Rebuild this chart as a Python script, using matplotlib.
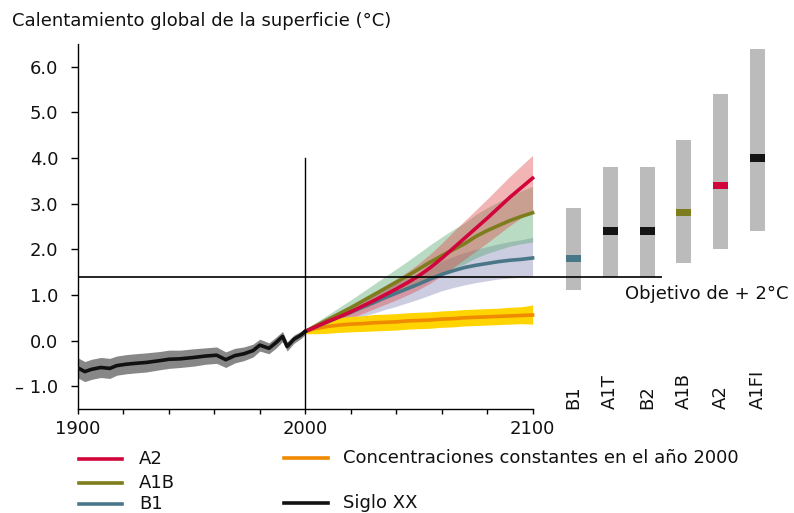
import numpy as np
import matplotlib
matplotlib.use("Agg")
import matplotlib.pyplot as plt
from matplotlib.lines import Line2D

plt.rcParams['font.family'] = ['DejaVu Sans']
FS = 13

# ---------------- data ----------------
hist_years = [1900, 1903, 1906, 1910, 1914, 1917, 1921, 1925, 1930, 1936, 1940, 1945, 1951,
              1956, 1961, 1965, 1969, 1973, 1977, 1980, 1984, 1987, 1990, 1992, 1995, 1998, 2000]
hist_mean = [-0.60, -0.68, -0.63, -0.59, -0.61, -0.55, -0.52, -0.50, -0.48, -0.44, -0.41, -0.40, -0.37,
             -0.34, -0.32, -0.42, -0.33, -0.29, -0.22, -0.10, -0.17, -0.05, 0.09, -0.13, 0.03, 0.12, 0.20]
hist_hi = [-0.38, -0.46, -0.41, -0.37, -0.39, -0.34, -0.31, -0.29, -0.27, -0.24, -0.21, -0.21, -0.18,
           -0.16, -0.14, -0.25, -0.17, -0.14, -0.08, 0.03, -0.05, 0.07, 0.20, -0.03, 0.12, 0.20, 0.27]
hist_lo = [-0.82, -0.90, -0.85, -0.81, -0.83, -0.76, -0.73, -0.71, -0.69, -0.64, -0.61, -0.59, -0.56,
           -0.52, -0.50, -0.59, -0.49, -0.44, -0.36, -0.23, -0.29, -0.17, -0.02, -0.23, -0.06, 0.04, 0.13]

proj_years = [2000, 2005, 2010, 2015, 2020, 2025, 2030, 2035, 2040, 2045, 2050,
              2055, 2060, 2065, 2070, 2075, 2080, 2085, 2090, 2095, 2100]

a2_mean = [0.20, 0.31, 0.42, 0.52, 0.63, 0.75, 0.87, 1.00, 1.13, 1.27, 1.42, 1.60, 1.80, 2.02, 2.24, 2.46, 2.68, 2.91, 3.14, 3.35, 3.56]
a2_hi = [0.25, 0.39, 0.52, 0.64, 0.77, 0.91, 1.05, 1.20, 1.35, 1.51, 1.69, 1.90, 2.13, 2.38, 2.62, 2.86, 3.10, 3.35, 3.60, 3.83, 4.06]
a2_lo = [0.15, 0.23, 0.32, 0.40, 0.49, 0.59, 0.69, 0.79, 0.89, 1.00, 1.12, 1.26, 1.42, 1.60, 1.78, 1.96, 2.14, 2.33, 2.52, 2.69, 2.84]

a1b_mean = [0.20, 0.33, 0.46, 0.59, 0.72, 0.86, 1.00, 1.14, 1.28, 1.42, 1.57, 1.72, 1.86, 1.99, 2.12, 2.28, 2.41, 2.52, 2.63, 2.72, 2.80]
a1b_hi = [0.25, 0.41, 0.57, 0.73, 0.89, 1.06, 1.23, 1.40, 1.57, 1.74, 1.92, 2.10, 2.27, 2.43, 2.58, 2.76, 2.91, 3.04, 3.17, 3.28, 3.38]
a1b_lo = [0.15, 0.25, 0.36, 0.47, 0.58, 0.69, 0.80, 0.91, 1.02, 1.13, 1.25, 1.37, 1.48, 1.58, 1.68, 1.81, 1.91, 1.99, 2.07, 2.12, 2.16]

b1_mean = [0.20, 0.31, 0.41, 0.52, 0.62, 0.73, 0.83, 0.94, 1.04, 1.14, 1.24, 1.35, 1.45, 1.53, 1.60, 1.65, 1.69, 1.73, 1.76, 1.78, 1.81]
b1_hi = [0.25, 0.38, 0.50, 0.63, 0.75, 0.88, 1.00, 1.13, 1.25, 1.37, 1.49, 1.62, 1.74, 1.84, 1.93, 2.00, 2.06, 2.12, 2.17, 2.21, 2.26]
b1_lo = [0.15, 0.23, 0.30, 0.38, 0.45, 0.53, 0.60, 0.68, 0.75, 0.83, 0.91, 1.00, 1.09, 1.16, 1.22, 1.27, 1.31, 1.35, 1.37, 1.39, 1.42]

const_mean = [0.20, 0.27, 0.31, 0.34, 0.36, 0.37, 0.39, 0.40, 0.41, 0.43, 0.44, 0.45, 0.47, 0.48, 0.50, 0.51, 0.52, 0.53, 0.54, 0.55, 0.56]
const_hi = [0.25, 0.39, 0.46, 0.50, 0.53, 0.54, 0.57, 0.58, 0.59, 0.61, 0.62, 0.63, 0.65, 0.66, 0.68, 0.69, 0.70, 0.71, 0.73, 0.74, 0.78]
const_lo = [0.15, 0.15, 0.16, 0.18, 0.19, 0.20, 0.21, 0.22, 0.23, 0.25, 0.26, 0.27, 0.29, 0.30, 0.32, 0.33, 0.34, 0.35, 0.36, 0.37, 0.36]

scenarios = ["B1", "A1T", "B2", "A1B", "A2", "A1FI"]
range_low = [1.1, 1.4, 1.4, 1.7, 2.0, 2.4]
range_high = [2.9, 3.8, 3.8, 4.4, 5.4, 6.4]
best_est = [1.8, 2.4, 2.4, 2.8, 3.4, 4.0]

target_level = 1.4
ytick_vals = [-1, 0, 1, 2, 3, 4, 5, 6]
ytick_labels = ["\u2013 1.0", "0.0", "1.0", "2.0", "3.0", "4.0", "5.0", "6.0"]
xtick_labels = {1900: "1900", 2000: "2000", 2100: "2100"}

# ---------------- styles ----------------
C_A2 = "#d2043c"
C_A1B = "#7d7d1e"
C_B1 = "#4a7788"
C_CONST = "#f08a00"
C_YEL = "#ffd400"
C_HIST = "#111111"
C_HISTBAND = "#878787"
TXT = "#111111"
marker_colors = [C_B1, "#141414", "#141414", C_A1B, C_A2, "#141414"]

fig = plt.figure(figsize=(7.94, 5.13), dpi=100)
W, H = 794, 513
ax = fig.add_axes([78 / W, 1 - 409 / H, (782.6 - 78) / W, (409 - 44) / H])
ax.set_xlim(1900, 2210)
ax.set_ylim(-1.5, 6.5)

# bands
ax.fill_between(hist_years, hist_lo, hist_hi, color=C_HISTBAND, lw=0, zorder=2)
ax.fill_between(proj_years, b1_lo, b1_hi, color="#8282b4", alpha=0.4, lw=0, zorder=2)
ax.fill_between(proj_years, a1b_lo, a1b_hi, color="#50a769", alpha=0.4, lw=0, zorder=2)
ax.fill_between(proj_years, a2_lo, a2_hi, color="#df4545", alpha=0.4, lw=0, zorder=2)
ax.fill_between(proj_years, const_lo, const_hi, color=C_YEL, lw=0, zorder=2.5)

# lines
lw = 2.6
ax.plot(proj_years, const_mean, color=C_CONST, lw=lw, zorder=3)
ax.plot(proj_years, b1_mean, color=C_B1, lw=lw, zorder=3)
ax.plot(proj_years, a1b_mean, color=C_A1B, lw=lw, zorder=3)
ax.plot(proj_years, a2_mean, color=C_A2, lw=lw, zorder=3)
ax.plot(hist_years, hist_mean, color=C_HIST, lw=lw, zorder=3)

# ranges per scenario (to the right of the time axis)
bar_x = 2118 + 16.2 * np.arange(len(scenarios))
bar_w = 6.6
ax.bar(bar_x, np.array(range_high) - np.array(range_low), bottom=range_low,
       width=bar_w, color="#bbbbbb", lw=0, zorder=2, clip_on=False)
mh = 0.16
ax.bar(bar_x, mh, bottom=np.array(best_est) - mh / 2, width=bar_w,
       color=marker_colors, lw=0, zorder=3, clip_on=False)
for x, s in zip(bar_x, scenarios):
    ax.text(x, -1.5, s, rotation=90, ha="center", va="bottom", fontsize=FS,
            color=TXT, clip_on=False)

# reference lines
ax.plot([1900, 2157], [target_level, target_level], color="black", lw=1.2, zorder=5,
        solid_capstyle="butt")
ax.plot([2000, 2000], [-1.5, 4.0], color="black", lw=1.0, zorder=5)
ax.text(2212.5, 1.02, "Objetivo de + 2\u00b0C", ha="right", va="center", fontsize=FS,
        color=TXT, clip_on=False)

# axes styling
for s in ["top", "right"]:
    ax.spines[s].set_visible(False)
ax.spines["left"].set_linewidth(1.0)
ax.spines["bottom"].set_linewidth(1.0)
ax.spines["bottom"].set_bounds(1900, 2100)
ax.set_yticks(ytick_vals)
ax.set_yticklabels(ytick_labels, fontsize=FS, color=TXT)
ax.tick_params(axis="y", length=5, width=1.0, pad=9)
xt = list(range(1900, 2101, 20))
ax.set_xticks(xt)
ax.set_xticklabels([xtick_labels.get(v, "") for v in xt], fontsize=FS, color=TXT)
ax.tick_params(axis="x", length=3.8, width=1.0, pad=4)

fig.text(12 / W, 1 - 21 / H, "Calentamiento global de la superficie (\u00b0C)",
         ha="left", va="center", fontsize=FS, color=TXT)

# legend (manual)
leg_items = [
    (79, 122, 139, 459, C_A2, "A2"),
    (79, 122, 139, 483, C_A1B, "A1B"),
    (79, 122, 139, 504, C_B1, "B1"),
    (284, 328, 343, 458, C_CONST, "Concentraciones constantes en el a\u00f1o 2000"),
    (284, 328, 343, 503, C_HIST, "Siglo XX"),
]
for x0, x1, xt_, y, c, lab in leg_items:
    fig.add_artist(Line2D([x0 / W, x1 / W], [1 - y / H, 1 - y / H], color=c, lw=2.6,
                          transform=fig.transFigure))
    fig.text(xt_ / W, 1 - y / H, lab, ha="left", va="center", fontsize=FS, color=TXT)

fig.savefig("out.png", dpi=100)
